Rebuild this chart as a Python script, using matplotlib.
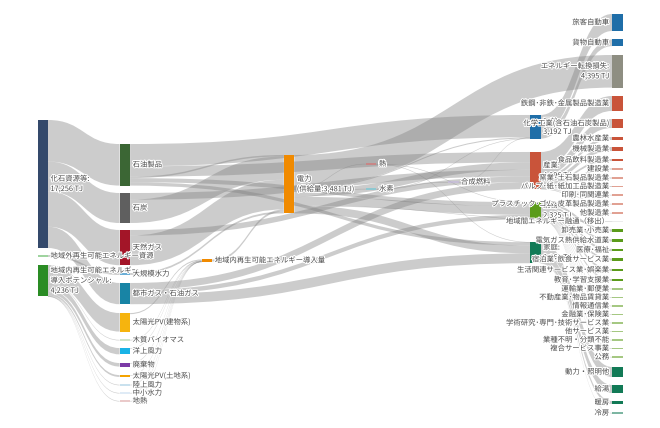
import matplotlib
matplotlib.use("Agg")
import matplotlib.pyplot as plt
from matplotlib.path import Path
from matplotlib.patches import PathPatch, Rectangle
import matplotlib.patheffects as pe

plt.rcParams['font.family'] = ['Noto Sans CJK JP', 'DejaVu Sans']

# ---- data -------------------------------------------------------------
node_names = [
    "化石資源等", "地域外再生可能エネルギー資源", "地域内再生可能エネルギー導入ポテンシャル",
    "石油製品", "石炭", "天然ガス", "大規模水力", "都市ガス・石油ガス",
    "太陽光PV(建物系)", "木質バイオマス", "洋上風力", "廃棄物", "太陽光PV(土地系)",
    "陸上風力", "中小水力", "地熱",
    "地域内再生可能エネルギー導入量", "電力", "熱", "水素", "合成燃料",
    "運輸", "産業", "業務", "家庭",
    "旅客自動車", "貨物自動車", "エネルギー転換損失",
    "鉄鋼･非鉄･金属製品製造業", "化学工業(含石油石炭製品)", "農林水産業", "機械製造業",
    "食品飲料製造業", "建設業", "窯業･土石製品製造業", "パルプ･紙･紙加工品製造業",
    "印刷･同関連業", "プラスチック･ゴム･皮革製品製造業", "他製造業",
    "地域間エネルギー融通（移出）",
    "卸売業･小売業", "電気ガス熱供給水道業", "医療･福祉", "宿泊業･飲食サービス業",
    "生活関連サービス業･娯楽業", "教育･学習支援業", "運輸業･郵便業", "不動産業･物品賃貸業",
    "情報通信業", "金融業･保険業", "学術研究･専門･技術サービス業", "他サービス業",
    "業種不明・分類不能", "複合サービス事業", "公務",
    "動力・照明他", "給湯", "暖房", "冷房",
]

# labels that differ from the plain node name
node_label_text = {
    "化石資源等": "化石資源等:\n17,256 TJ",
    "地域内再生可能エネルギー導入ポテンシャル": "地域内再生可能エネルギー\n導入ポテンシャル:\n4,236 TJ",
    "電力": "電力\n(供給量:3,481 TJ)",
    "運輸": "運輸:\n3,192 TJ",
    "産業": "産業:\n4,996 TJ",
    "業務": "業務:\n2,325 TJ",
    "家庭": "家庭:\n2,861 TJ",
    "エネルギー転換損失": "エネルギー転換損失:\n4,395 TJ",
}

links = [
    # source, target, value [TJ]
    ("化石資源等", "石油製品", 5600), ("化石資源等", "石炭", 4043),
    ("化石資源等", "天然ガス", 4750), ("化石資源等", "都市ガス・石油ガス", 2863),
    ("地域外再生可能エネルギー資源", "大規模水力", 250),
    ("地域内再生可能エネルギー導入ポテンシャル", "太陽光PV(建物系)", 2500),
    ("地域内再生可能エネルギー導入ポテンシャル", "木質バイオマス", 40),
    ("地域内再生可能エネルギー導入ポテンシャル", "洋上風力", 850),
    ("地域内再生可能エネルギー導入ポテンシャル", "廃棄物", 480),
    ("地域内再生可能エネルギー導入ポテンシャル", "太陽光PV(土地系)", 250),
    ("地域内再生可能エネルギー導入ポテンシャル", "陸上風力", 70),
    ("地域内再生可能エネルギー導入ポテンシャル", "中小水力", 26),
    ("地域内再生可能エネルギー導入ポテンシャル", "地熱", 20),
    ("石油製品", "運輸", 3000), ("石油製品", "産業", 1400), ("石油製品", "業務", 550),
    ("石油製品", "家庭", 450), ("石油製品", "電力", 200),
    ("石炭", "電力", 3143), ("石炭", "産業", 900),
    ("天然ガス", "電力", 4000), ("天然ガス", "産業", 750),
    ("大規模水力", "電力", 250),
    ("都市ガス・石油ガス", "産業", 946), ("都市ガス・石油ガス", "業務", 595),
    ("都市ガス・石油ガス", "家庭", 1322),
    ("太陽光PV(建物系)", "地域内再生可能エネルギー導入量", 150),
    ("木質バイオマス", "地域内再生可能エネルギー導入量", 10),
    ("洋上風力", "地域内再生可能エネルギー導入量", 50),
    ("廃棄物", "地域内再生可能エネルギー導入量", 40),
    ("太陽光PV(土地系)", "地域内再生可能エネルギー導入量", 20),
    ("陸上風力", "地域内再生可能エネルギー導入量", 8),
    ("中小水力", "地域内再生可能エネルギー導入量", 3),
    ("地熱", "地域内再生可能エネルギー導入量", 2),
    ("地域内再生可能エネルギー導入量", "電力", 283),
    ("電力", "エネルギー転換損失", 4395), ("電力", "運輸", 142), ("電力", "産業", 1000),
    ("電力", "業務", 1150), ("電力", "家庭", 1059), ("電力", "熱", 60),
    ("電力", "水素", 50), ("電力", "地域間エネルギー融通（移出）", 20),
    ("熱", "業務", 30), ("熱", "家庭", 30),
    ("水素", "運輸", 30), ("水素", "合成燃料", 20),
    ("合成燃料", "運輸", 20),
    ("運輸", "旅客自動車", 2290), ("運輸", "貨物自動車", 902),
    ("産業", "鉄鋼･非鉄･金属製品製造業", 2020), ("産業", "化学工業(含石油石炭製品)", 1213),
    ("産業", "農林水産業", 400), ("産業", "機械製造業", 540), ("産業", "食品飲料製造業", 270),
    ("産業", "建設業", 160), ("産業", "窯業･土石製品製造業", 135),
    ("産業", "パルプ･紙･紙加工品製造業", 130), ("産業", "印刷･同関連業", 50),
    ("産業", "プラスチック･ゴム･皮革製品製造業", 45), ("産業", "他製造業", 33),
    ("業務", "卸売業･小売業", 330), ("業務", "電気ガス熱供給水道業", 300),
    ("業務", "医療･福祉", 310), ("業務", "宿泊業･飲食サービス業", 290),
    ("業務", "生活関連サービス業･娯楽業", 280), ("業務", "教育･学習支援業", 250),
    ("業務", "運輸業･郵便業", 100), ("業務", "不動産業･物品賃貸業", 90),
    ("業務", "情報通信業", 70), ("業務", "金融業･保険業", 60),
    ("業務", "学術研究･専門･技術サービス業", 70), ("業務", "他サービス業", 60),
    ("業務", "業種不明・分類不能", 50), ("業務", "複合サービス事業", 30), ("業務", "公務", 35),
    ("家庭", "動力・照明他", 1350), ("家庭", "給湯", 1080),
    ("家庭", "暖房", 400), ("家庭", "冷房", 31),
]

# ---- layout (like plotly node.x / node.y arrangement) ------------------
node_col = [0, 0, 0] + [1] * 13 + [2, 3, 4, 4, 5] + [6] * 4 + [7] * 34
node_y = [184, 256, 280.7,
          164.8, 208, 247.6, 274, 293.6, 322.3, 340, 351.2, 364.8, 376, 385, 393, 401,
          260.5, 184.2, 164, 189, 182,
          126.8, 170.5, 210.6, 252.6,
          22.5, 42.8, 71.3, 103.5, 123.5, 138.5, 149, 160, 169, 178, 186.5, 195, 204, 213,
          221.5, 230.5, 240.5, 250, 259.5, 270, 280, 289, 297.5, 306, 314.5, 323, 331.5,
          340, 348.5, 357, 372, 389, 402.5, 413]

c_fossil, c_ind, c_com, c_home = "#34496b", "#c9543a", "#5b9b1b", "#127a56"
node_colors = (["#34496b", "#9fd49f", "#2a8c24",
                "#3b6634", "#5f5f5f", "#a31528", "#6baed6", "#1884a5", "#f6b40e", "#a8cfa0",
                "#19b3e6", "#7b3aa6", "#f4a300", "#9ecae1", "#c6dbef", "#d9a0a0",
                "#f08a00", "#f08a00", "#e06666", "#5cc6d6", "#c4b5e0",
                "#1f6ea8", c_ind, c_com, c_home,
                "#1f6ea8", "#1f6ea8", "#8e8e82"]
               + [c_ind] * 11 + ["#dddddd"] + [c_com] * 15 + [c_home] * 4)

W, H = 660, 428
scale = 128.0 / 17256      # px per TJ
col_x0, col_step, node_w = 37.5, 82.1, 10.5

idx = {n: i for i, n in enumerate(node_names)}
n_nodes = len(node_names)
val_in = [0.0] * n_nodes
val_out = [0.0] * n_nodes
for s, t, v in links:
    val_out[idx[s]] += v
    val_in[idx[t]] += v
node_h = [max(val_in[i], val_out[i]) * scale for i in range(n_nodes)]
node_top = [node_y[i] - node_h[i] / 2 for i in range(n_nodes)]
node_x = [col_x0 + c * col_step for c in node_col]

# stack links inside each node, ordered by the position of the other end
src_off, tgt_off = {}, {}
for i in range(n_nodes):
    outs = sorted([k for k, l in enumerate(links) if idx[l[0]] == i],
                  key=lambda k: node_y[idx[links[k][1]]])
    y = node_top[i]
    for k in outs:
        src_off[k] = y
        y += links[k][2] * scale
    ins = sorted([k for k, l in enumerate(links) if idx[l[1]] == i],
                 key=lambda k: node_y[idx[links[k][0]]])
    y = node_top[i]
    for k in ins:
        tgt_off[k] = y
        y += links[k][2] * scale

fig = plt.figure(figsize=(6.6, 4.28), dpi=100)
ax = fig.add_axes([0, 0, 1, 1])
ax.set_xlim(0, W)
ax.set_ylim(H, 0)
ax.axis('off')

# links
for k, (s, t, v) in enumerate(links):
    i, j = idx[s], idx[t]
    x0 = node_x[i] + node_w
    x1 = node_x[j]
    h = max(v * scale, 0.6)
    y0a, y1a = src_off[k], tgt_off[k]
    y0b, y1b = y0a + h, y1a + h
    xm = (x0 + x1) / 2
    verts = [(x0, y0a), (xm, y0a), (xm, y1a), (x1, y1a),
             (x1, y1b), (xm, y1b), (xm, y0b), (x0, y0b), (x0, y0a)]
    codes = [Path.MOVETO, Path.CURVE4, Path.CURVE4, Path.CURVE4,
             Path.LINETO, Path.CURVE4, Path.CURVE4, Path.CURVE4, Path.CLOSEPOLY]
    ax.add_patch(PathPatch(Path(verts, codes), facecolor="#808080", alpha=0.4,
                           edgecolor='none', zorder=1))

# nodes
for i in range(n_nodes):
    h = node_h[i]
    color = node_colors[i]
    alpha = 1.0
    if h < 1.2:
        h = 1.2
        alpha = 0.55
    ax.add_patch(Rectangle((node_x[i], node_y[i] - h / 2), node_w, h,
                           facecolor=color, alpha=alpha, edgecolor='none', zorder=2))

# labels
halo = [pe.withStroke(linewidth=1.5, foreground='white')]
for i, name in enumerate(node_names):
    label = node_label_text.get(name, name)
    if node_col[i] == 7:
        ax.text(node_x[i] - 3, node_y[i], label, ha='right', va='center',
                multialignment='right', fontsize=5.3, color='#4a4a4a',
                linespacing=1.35, path_effects=halo, zorder=3)
    else:
        ax.text(node_x[i] + node_w + 2.5, node_y[i], label, ha='left', va='center',
                fontsize=5.3, color='#4a4a4a', linespacing=1.35,
                path_effects=halo, zorder=3)

fig.savefig("out.png", dpi=100)
